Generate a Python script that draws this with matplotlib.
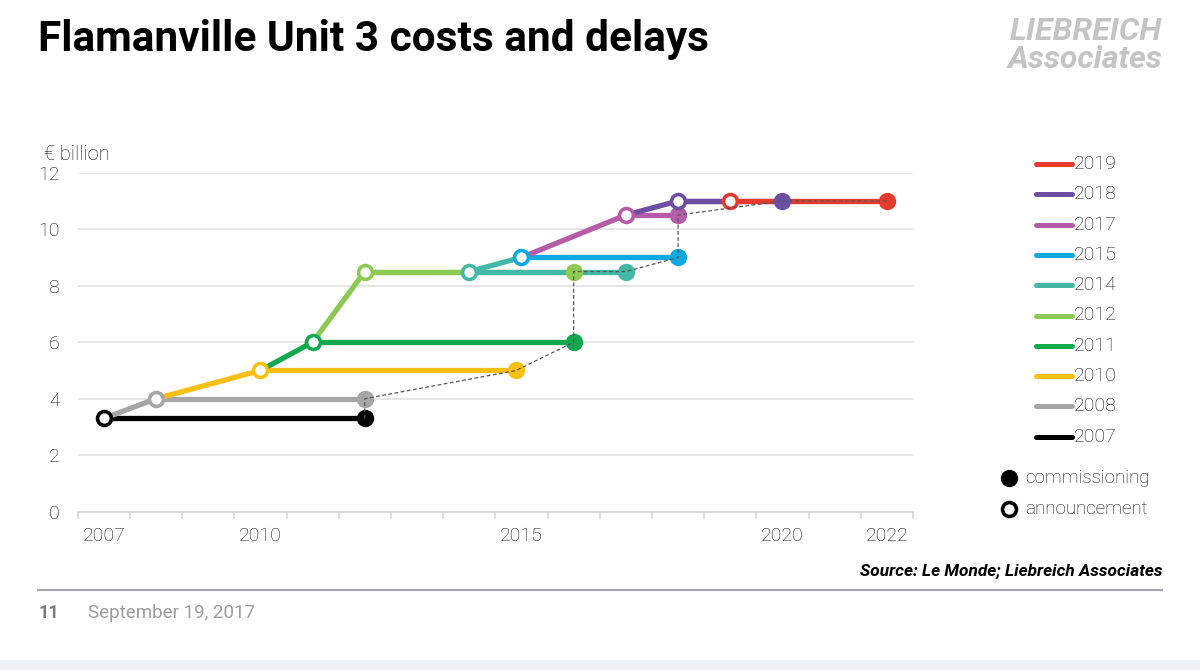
import matplotlib
matplotlib.use("Agg")
import matplotlib.pyplot as plt
from matplotlib.lines import Line2D
from matplotlib.patches import Rectangle

# ---------------- data ----------------
series_names = ["2007", "2008", "2010", "2011", "2012", "2014", "2015", "2017", "2018", "2019"]
announce_year = [2007, 2008, 2010, 2011, 2012, 2014, 2015, 2017, 2018, 2019]
announce_cost = [3.3, 4.0, 5.0, 6.0, 8.5, 8.5, 9.0, 10.5, 11.0, 11.0]
commission_year = [2012, 2012, 2014.9, 2016, 2016, 2017, 2018, 2018, 2020, 2022]
commission_cost = [3.3, 4.0, 5.0, 6.0, 8.5, 8.5, 9.0, 10.5, 11.0, 11.0]
x_tick_labels = ["2007", "2010", "2015", "2020", "2022"]
y_ticks = [0, 2, 4, 6, 8, 10, 12]

# ---------------- style ----------------
colors = ["#000000", "#a6a6a6", "#f9c013", "#11a84e", "#8dc953",
          "#44b8a6", "#0fa9e1", "#b55ca9", "#6c4ea3", "#e63a2d"]
# colour of the segment from the previous announcement: True = this series, False = previous
connector_own_colour = [None, True, True, True, True, False, False, True, True, False]

BODY = ["Roboto", "DejaVu Sans"]
plt.rcParams["font.family"] = BODY
TXT = "#111111"

W, H = 1200, 670
fig = plt.figure(figsize=(12, 6.7), dpi=100)
fig.patch.set_facecolor("white")

# overlay in pixel coordinates for page decoration
ov = fig.add_axes([0, 0, 1, 1], zorder=-5)
ov.set_xlim(0, W)
ov.set_ylim(H, 0)
ov.axis("off")

# main axes
L, R, T, B = 77.7, 913.0, 172.7, 511.7
ax = fig.add_axes([L / W, 1 - B / H, (R - L) / W, (B - T) / H])
ax.set_facecolor("none")
ax.set_xlim(2006.5, 2022.5)
ax.set_ylim(0, 12)
for s in ["top", "right", "left"]:
    ax.spines[s].set_visible(False)
ax.spines["bottom"].set_color("#d4d4d4")
ax.spines["bottom"].set_linewidth(1.2)
ax.set_yticks(y_ticks)
ax.set_yticklabels([str(v) for v in y_ticks])
ax.tick_params(axis="y", length=0, pad=13, labelsize=14, labelcolor=TXT)
ax.grid(axis="y", color="#e3e3e3", linewidth=1.3)
ax.set_axisbelow(True)
ax.set_xticks([int(t) for t in x_tick_labels])
ax.set_xticklabels(x_tick_labels)
ax.set_xticks([y + 0.5 for y in range(2006, 2023)], minor=True)
ax.tick_params(axis="x", which="major", length=0, pad=11, labelsize=14, labelcolor=TXT)
ax.tick_params(axis="x", which="minor", length=5, width=1.1, color="#d4d4d4")
for lab in ax.get_xticklabels() + ax.get_yticklabels():
    lab.set_fontweight("light")

LW = 3.8
# lines
for i in range(len(series_names)):
    if i > 0:
        c = colors[i] if connector_own_colour[i] else colors[i - 1]
        ax.plot([announce_year[i - 1], announce_year[i]], [announce_cost[i - 1], announce_cost[i]],
                color=c, lw=LW, solid_capstyle="butt", zorder=3 + i * 0.01)
    ax.plot([announce_year[i], commission_year[i]], [announce_cost[i], commission_cost[i]],
            color=colors[i], lw=LW, solid_capstyle="butt", zorder=3 + i * 0.01)
# markers
for i in range(len(series_names)):
    ax.plot(commission_year[i], commission_cost[i], "o", ms=12.5, color=colors[i], mew=0, zorder=5)
    ax.plot(announce_year[i], announce_cost[i], "o", ms=10, mfc="white", mec=colors[i], mew=2.6, zorder=5)
# dashed link between commissioning dates
ax.plot(commission_year, commission_cost, ls=(0, (3, 2)), color="#555555", lw=0.9, zorder=6)

# y unit label
ov.text(44, 155, "€ billion", fontsize=14.5, color=TXT, va="center", ha="left", fontweight="light")

# legend
ly0, lstep = 164, 30.3
for k, i in enumerate(range(len(series_names) - 1, -1, -1)):
    y = ly0 + k * lstep
    ov.add_line(Line2D([1036, 1072], [y, y], color=colors[i], lw=3.6, solid_capstyle="round"))
    ov.text(1074, y, series_names[i], fontsize=14, color=TXT, va="center", ha="left",
            fontweight="light")
ov.plot([1009], [478], "o", ms=12.5, color="black", mew=0)
ov.text(1025, 478, "commissioning", fontsize=13.5, color=TXT, va="center", ha="left", fontweight="light")
ov.plot([1009], [509], "o", ms=10, mfc="white", mec="black", mew=2.6)
ov.text(1025, 509, "announcement", fontsize=13.5, color=TXT, va="center", ha="left", fontweight="light")

# title and branding
ov.text(38, 39, "Flamanville Unit 3 costs and delays", fontsize=30.5,
        fontweight="bold", color="black", va="center", ha="left")
ov.text(1162, 31, "LIEBREICH", fontsize=23, fontweight="bold", fontstyle="italic",
        color="#c4c4c4", va="center", ha="right")
ov.text(1162, 60, "Associates", fontsize=23, fontweight="bold", fontstyle="italic",
        color="#c4c4c4", va="center", ha="right")

# footer
ov.text(1162, 571, "Source: Le Monde; Liebreich Associates", fontsize=12.4, fontweight="bold",
        fontstyle="italic", color="black", va="center", ha="right")
ov.add_line(Line2D([38, 1162], [590, 590], color="#a9a3b6", lw=1.5))
ov.text(38, 613, "11", fontsize=13, fontweight="bold", color="#7a7a7a", va="center", ha="left")
ov.text(88, 613, "September 19, 2017", fontsize=13.5, color="#9d9d9d", va="center", ha="left")
ov.add_patch(Rectangle((0, 660), W, 10, color="#eef1f6", lw=0))

fig.savefig("out.png", dpi=100, facecolor="white")
